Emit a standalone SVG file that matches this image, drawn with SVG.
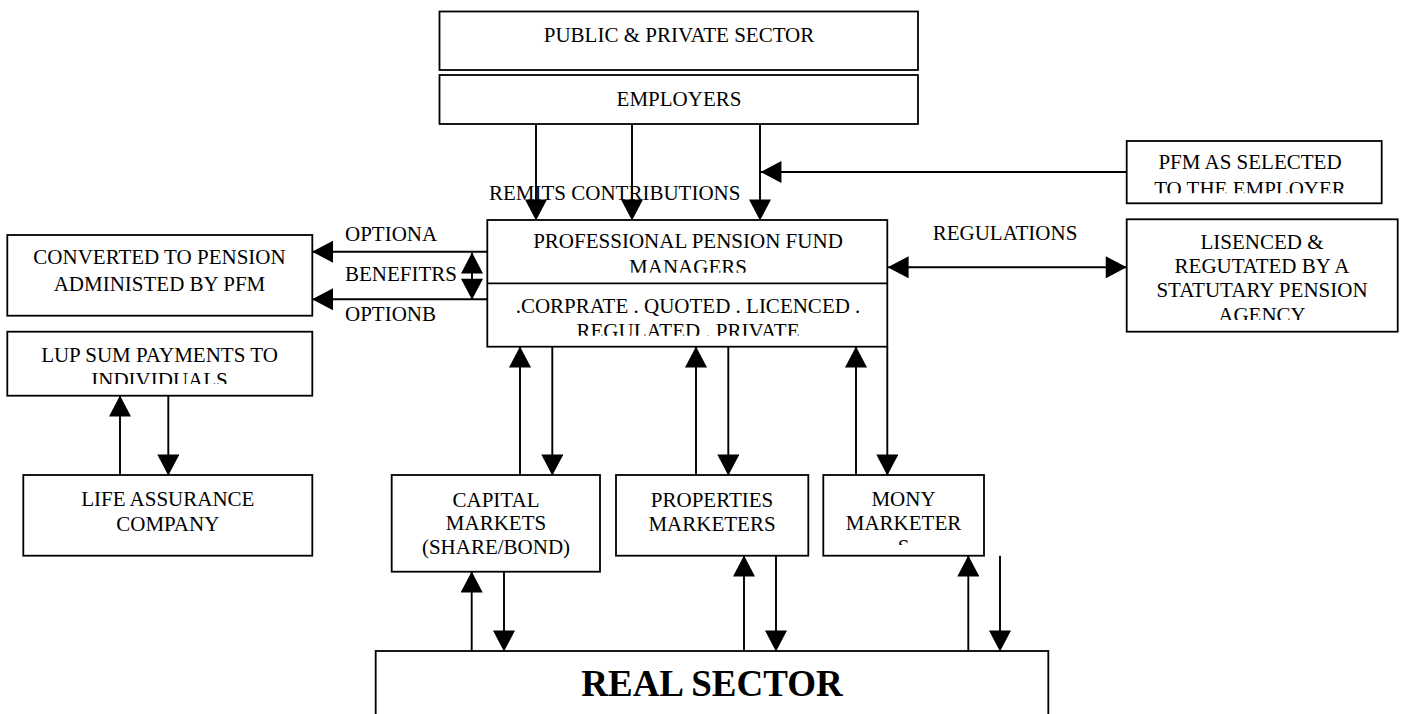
<svg xmlns="http://www.w3.org/2000/svg" width="1405" height="714" viewBox="0 0 1405 714">
  <style>
    .box { fill: #fff; stroke: #000; stroke-width: 1.8; }
    .div { stroke: #000; stroke-width: 1.8; }
    .t { font-family: "Liberation Serif", "Times New Roman", serif; font-size: 21px; fill: #000; }
    .c { text-anchor: middle; }
    .big { font-family: "Liberation Serif", "Times New Roman", serif; font-size: 37px; font-weight: bold; fill: #000; text-anchor: middle; }
    .ln { fill: none; stroke: #000; stroke-width: 1.9; }
  </style>
  <defs>
    <marker id="ah" markerUnits="userSpaceOnUse" markerWidth="22" markerHeight="22" viewBox="0 0 20 21" refX="19.5" refY="10.5" orient="auto">
      <path d="M0,0 L20,10.5 L0,21 Z" fill="#000"/>
    </marker>
    <marker id="ahs" markerUnits="userSpaceOnUse" markerWidth="22" markerHeight="22" viewBox="0 0 20 21" refX="0.5" refY="10.5" orient="auto">
      <path d="M20,0 L0,10.5 L20,21 Z" fill="#000"/>
    </marker>
    <!-- text areas that crop the last line of a few boxes -->
    <clipPath id="clipPfmTop"><rect x="488" y="221" width="398" height="51.7"/></clipPath>
    <clipPath id="clipPfmBot"><rect x="488" y="284" width="398" height="51.8"/></clipPath>
    <clipPath id="clipSel"><rect x="1127" y="142" width="254" height="51.3"/></clipPath>
    <clipPath id="clipLis"><rect x="1127" y="220" width="270" height="100"/></clipPath>
    <clipPath id="clipLup"><rect x="8" y="332" width="304" height="52"/></clipPath>
    <clipPath id="clipMony"><rect x="824" y="476" width="160" height="69"/></clipPath>
  </defs>

  <!-- free labels -->
  <g id="labels">
    <text class="t" x="489" y="200">REMITS CONTRIBUTIONS</text>
    <text class="t" x="345" y="240.7">OPTIONA</text>
    <text class="t" x="345" y="280.7">BENEFITRS</text>
    <text class="t" x="345" y="320.7">OPTIONB</text>
    <text class="t" x="932.7" y="240">REGULATIONS</text>
  </g>

  <g id="public-private-sector">
    <rect class="box" x="439.5" y="11.5" width="478.5" height="58.5"/>
    <text class="t c" x="679" y="42">PUBLIC &amp; PRIVATE SECTOR</text>
  </g>

  <g id="employers">
    <rect class="box" x="439.5" y="75" width="478.5" height="49"/>
    <text class="t c" x="679" y="106">EMPLOYERS</text>
  </g>

  <g id="pfm-selected">
    <rect class="box" x="1126.7" y="141" width="255" height="62.3"/>
    <g clip-path="url(#clipSel)">
      <text class="t c" x="1250" y="169.3">PFM AS SELECTED</text>
      <text class="t c" x="1250" y="195.7">TO THE EMPLOYER</text>
    </g>
  </g>

  <g id="pension-fund-managers">
    <rect class="box" x="487.3" y="220" width="400" height="126.7"/>
    <line class="div" x1="487.3" y1="283.3" x2="887.3" y2="283.3"/>
    <g clip-path="url(#clipPfmTop)">
      <text class="t c" x="688" y="248.3">PROFESSIONAL PENSION FUND</text>
      <text class="t c" x="688" y="274">MANAGERS</text>
    </g>
    <g clip-path="url(#clipPfmBot)">
      <text class="t c" x="688" y="313.3">.CORPRATE . QUOTED . LICENCED .</text>
      <text class="t c" x="688" y="337.5">REGULATED . PRIVATE</text>
    </g>
  </g>

  <g id="regulator">
    <rect class="box" x="1126.7" y="219.3" width="271" height="112.4"/>
    <g clip-path="url(#clipLis)">
      <text class="t c" x="1262" y="249.3">LISENCED &amp;</text>
      <text class="t c" x="1262" y="273.3">REGUTATED BY A</text>
      <text class="t c" x="1262" y="296.7">STATUTARY PENSION</text>
      <text class="t c" x="1262" y="322.3">AGENCY</text>
    </g>
  </g>

  <g id="converted-pension">
    <rect class="box" x="7.3" y="235" width="305" height="80.7"/>
    <text class="t c" x="159.5" y="264">CONVERTED TO PENSION</text>
    <text class="t c" x="159.5" y="290.7">ADMINISTED BY PFM</text>
  </g>

  <g id="lump-sum">
    <rect class="box" x="7.3" y="331.7" width="305" height="64"/>
    <g clip-path="url(#clipLup)">
      <text class="t c" x="159.5" y="361.7">LUP SUM PAYMENTS TO</text>
      <text class="t c" x="159.5" y="387.3">INDIVIDUALS</text>
    </g>
  </g>

  <g id="life-assurance">
    <rect class="box" x="23.3" y="475" width="289" height="80.7"/>
    <text class="t c" x="167.8" y="506">LIFE ASSURANCE</text>
    <text class="t c" x="167.8" y="530.7">COMPANY</text>
  </g>

  <g id="capital-markets">
    <rect class="box" x="391.7" y="475" width="208.3" height="96.7"/>
    <text class="t c" x="496" y="506.7">CAPITAL</text>
    <text class="t c" x="496" y="530">MARKETS</text>
    <text class="t c" x="496" y="554.3">(SHARE/BOND)</text>
  </g>

  <g id="properties-marketers">
    <rect class="box" x="616" y="475" width="192.3" height="80.7"/>
    <text class="t c" x="712" y="506.7">PROPERTIES</text>
    <text class="t c" x="712" y="530.7">MARKETERS</text>
  </g>

  <g id="money-marketers">
    <rect class="box" x="823.3" y="475" width="160.7" height="80.7"/>
    <g clip-path="url(#clipMony)">
      <text class="t c" x="903.5" y="505.7">MONY</text>
      <text class="t c" x="903.5" y="530">MARKETER</text>
      <text class="t c" x="903.5" y="554">S</text>
    </g>
  </g>

  <g id="real-sector">
    <rect class="box" x="375.7" y="651" width="672.6" height="90"/>
    <text class="big" x="712" y="696">REAL SECTOR</text>
  </g>

  <g id="connectors">
    <!-- contributions from employers -->
    <path class="ln" d="M536,124 V220" marker-end="url(#ah)"/>
    <path class="ln" d="M632,124 V220" marker-end="url(#ah)"/>
    <path class="ln" d="M760,124 V220" marker-end="url(#ah)"/>
    <path class="ln" d="M1126.7,172 H761" marker-end="url(#ah)"/>
    <!-- benefit options -->
    <path class="ln" d="M487.3,251.7 H312.6" marker-end="url(#ah)"/>
    <path class="ln" d="M487.3,299.3 H312.6" marker-end="url(#ah)"/>
    <path class="ln" d="M472,253 V299.3" marker-start="url(#ahs)" marker-end="url(#ah)"/>
    <!-- regulation -->
    <path class="ln" d="M888.2,267.3 H1126.2" marker-start="url(#ahs)" marker-end="url(#ah)"/>
    <!-- lump sum / life assurance -->
    <path class="ln" d="M120,475 V396" marker-end="url(#ah)"/>
    <path class="ln" d="M168.3,395.7 V475" marker-end="url(#ah)"/>
    <!-- fund managers to markets -->
    <path class="ln" d="M520,475 V347" marker-end="url(#ah)"/>
    <path class="ln" d="M552.3,346.7 V475" marker-end="url(#ah)"/>
    <path class="ln" d="M696,475 V347" marker-end="url(#ah)"/>
    <path class="ln" d="M728.3,346.7 V475" marker-end="url(#ah)"/>
    <path class="ln" d="M856,475 V347" marker-end="url(#ah)"/>
    <path class="ln" d="M887.3,346.7 V475" marker-end="url(#ah)"/>
    <!-- markets to real sector -->
    <path class="ln" d="M471.7,651 V572" marker-end="url(#ah)"/>
    <path class="ln" d="M504,571.7 V651" marker-end="url(#ah)"/>
    <path class="ln" d="M744,651 V556" marker-end="url(#ah)"/>
    <path class="ln" d="M776,555.7 V651" marker-end="url(#ah)"/>
    <path class="ln" d="M968.3,651 V556" marker-end="url(#ah)"/>
    <path class="ln" d="M1000,555.7 V651" marker-end="url(#ah)"/>
  </g>
</svg>
